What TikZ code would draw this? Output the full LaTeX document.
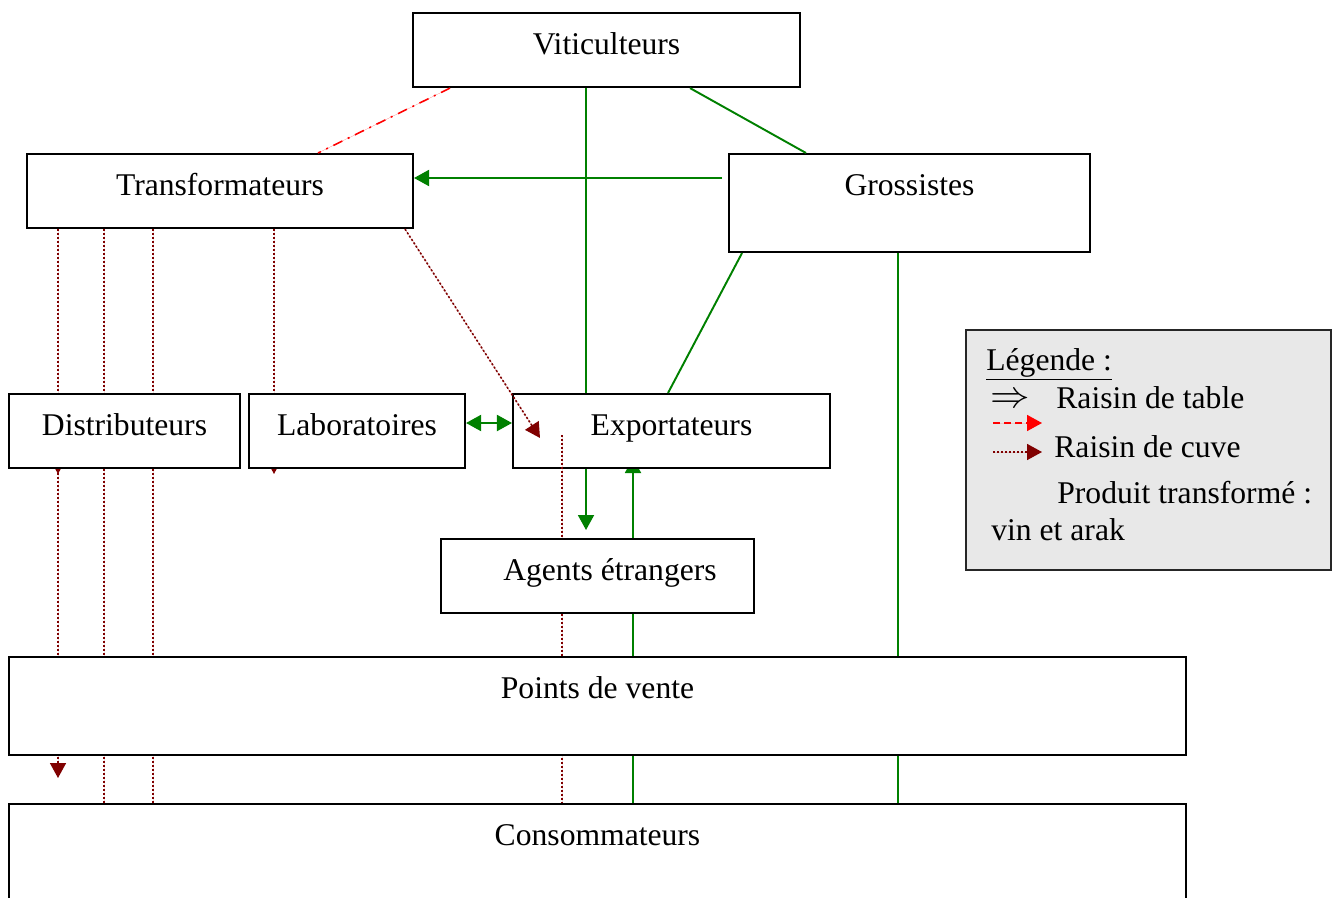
\documentclass[tikz,border=0pt]{standalone}
\usepackage{fontspec}
\setmainfont{Liberation Serif}
\usetikzlibrary{arrows.meta, backgrounds}
\definecolor{vertfonce}{RGB}{0,128,0}
\definecolor{bordeaux}{RGB}{128,0,0}

\begin{document}
\begin{tikzpicture}[x=0.02cm, y=-0.02cm, font=\fontsize{18}{22}\selectfont,
  >={Triangle[length=0.3cm, width=0.32cm]},
  boite/.style={draw, fill=white, line width=1.2pt, anchor=north, inner sep=0pt, text height=0.82cm, text depth=0.66cm},
  vert/.style={draw=vertfonce, fill=vertfonce, line width=1.1pt},
  cuve/.style={draw=bordeaux, fill=bordeaux, line width=0.9pt, dash pattern=on 0.04cm off 0.04cm},
  rouge/.style={draw=red, fill=red, line width=0.9pt, dash pattern=on 0.2cm off 0.12cm on 0.04cm off 0.12cm},
  legtexte/.style={anchor=base west, inner sep=0pt}]
\useasboundingbox (0,0) rectangle (1337,898);

\foreach \x in {58,104,153,274,318,405,450,562,586,633,668,690,742,806,898}
  \coordinate (x\x) at (\x,0);
\coordinate (y178) at (0,178);
\coordinate (y423) at (0,423);

\node[boite, minimum width=7.74cm] (vit) at (606.5,12) {Viticulteurs};
\node[boite, minimum width=7.72cm] (trans) at (220,153) {Transformateurs};
\node[boite, minimum width=7.22cm, text depth=1.14cm] (gros) at (909.5,153) {Grossistes};
\node[boite, minimum width=4.62cm] (dist) at (124.5,393) {Distributeurs};
\node[boite, minimum width=4.32cm] (labo) at (357,393) {Laboratoires};
\node[boite, minimum width=6.34cm] (expo) at (671.5,393) {Exportateurs};
\node[boite, minimum width=6.26cm] (agents) at (597.5,538) {\hspace*{0.5cm}Agents étrangers};
\node[boite, minimum width=23.54cm, text depth=1.14cm] (pdv) at (597.5,656) {Points de vente};
\node[boite, minimum width=23.54cm, text depth=1.3cm] (conso) at (597.5,803) {Consommateurs};

\coordinate (d58) at (58,474);
\coordinate (f58) at (58,778);
\coordinate (l274) at (274,474);
\coordinate (e633) at (633,458);
\coordinate (a586) at (586,530);
\coordinate (g722) at (722,178);
\coordinate (e540) at (540,438);
\coordinate (e562) at (562,435);

\begin{pgfonlayer}{background}
\draw[cuve, ->] (trans.south -| x58) -- (d58);
\draw[cuve, ->] (dist.south -| x58) -- (f58);
\draw[cuve] (trans.south -| x104) -- (conso.north -| x104);
\draw[cuve] (trans.south -| x153) -- (conso.north -| x153);
\draw[cuve, ->] (trans.south -| x274) -- (l274);
\draw[cuve] (agents.south -| x562) -- (conso.north -| x562);
\draw[vert] (gros.south -| x898) -- (conso.north -| x898);
\draw[vert, ->] (conso.north -| x633) -- (e633);
\end{pgfonlayer}

\draw[vert] (vit.south -| x586) -- (expo.north -| x586);
\draw[vert, ->] (expo.south -| x586) -- (a586);
\draw[vert] (vit.south -| x690) -- (gros.north -| x806);
\draw[vert, ->] (g722) -- (trans.east |- g722);
\draw[vert] (gros.south -| x742) -- (expo.north -| x668);
\draw[vert, <->] (labo.east |- y423) -- (expo.west |- y423);
\draw[rouge] (vit.south -| x450) -- (trans.north -| x318);
\draw[cuve, ->] (trans.south -| x405) -- (e540);
\draw[cuve] (e562) -- (agents.north -| x562);

\node[draw=black!85, fill=black!9, line width=1.2pt, anchor=north west, minimum width=7.3cm, minimum height=4.8cm] (leg) at (965,329) {};
\node[legtexte] (titre) at (986,370) {\underline{Légende :}};
\node[inner sep=0pt] (fleche) at (1010,401) {\scalebox{1.3}[1.25]{$\Rightarrow$}};
\node[legtexte] (table) at (1056,408) {Raisin de table};
\coordinate (r1) at (993,423);
\coordinate (r2) at (1042,423);
\draw[rouge, dash pattern=on 0.14cm off 0.08cm, ->] (r1) -- (r2);
\coordinate (c1) at (993,452);
\coordinate (c2) at (1042,452);
\draw[cuve, ->] (c1) -- (c2);
\node[legtexte] (cuv) at (1054,457) {Raisin de cuve};
\node[legtexte] (prod) at (1057,503) {Produit transformé :};
\node[legtexte] (vin) at (991,540) {vin et arak};
\end{tikzpicture}
\end{document}
